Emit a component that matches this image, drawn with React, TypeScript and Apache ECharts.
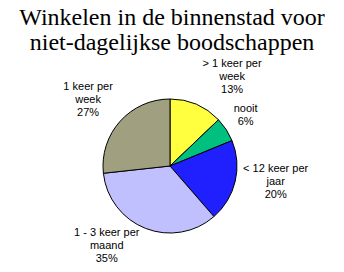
import React, { useEffect, useRef } from "react";
import * as echarts from "echarts";

const categories = ["> 1 keer per week", "nooit", "< 12 keer per jaar", "1 - 3 keer per maand", "1 keer per week"];
const values = [13, 6, 20, 35, 27];
const colors = ["#FFFF40", "#00C080", "#2020FF", "#C0C0FF", "#A0A080"];
const titleText = "Winkelen in de binnenstad voor\nniet-dagelijkse boodschappen";

export default function App() {
  const ref = useRef<HTMLDivElement>(null);
  useEffect(() => {
    document.body.style.margin = "0";
    const chart = echarts.init(ref.current!, null, { renderer: "svg" });
    const total = values.reduce((a, b) => a + b, 0);
    const midAngle = (i: number) => {
      let before = 0;
      for (let k = 0; k < i; k++) before += values[k];
      return ((before + values[i] / 2) / total) * Math.PI * 2;
    };
    chart.setOption({
      animation: false,
      backgroundColor: "#ffffff",
      title: {
        text: titleText,
        left: "center",
        top: -1,
        textStyle: {
          fontFamily: "Liberation Serif, serif",
          fontWeight: "normal",
          fontSize: 24,
          lineHeight: 25,
          color: "#000",
        },
      },
      series: [
        {
          type: "pie",
          center: [170, 166],
          radius: 67,
          startAngle: 90,
          clockwise: true,
          avoidLabelOverlap: false,
          data: categories.map((c, i) => ({ name: c, value: values[i], itemStyle: { color: colors[i] } })),
          itemStyle: { borderColor: "#000", borderWidth: 1 },
          label: {
            show: true,
            position: "outside",
            align: "center",
            fontFamily: "Arial",
            fontSize: 11,
            lineHeight: 13,
            color: "#000",
            formatter: (p: any) => p.name.replace(" per ", " per\n") + "\n" + p.value + "%",
          },
          labelLine: { show: false, length: 3, length2: 0 },
          labelLayout: (p: any) => {
            const a = midAngle(p.dataIndex);
            const r = p.labelRect;
            return {
              x: r.x + r.width / 2,
              y: r.y + r.height / 2 - Math.cos(a) * (r.height / 2) * 1.1 - 6,
              align: "center",
              verticalAlign: "middle",
            };
          },
          emphasis: { disabled: true },
        },
      ],
    });
    return () => chart.dispose();
  }, []);
  return <div ref={ref} style={{ width: 344, height: 272 }} />;
}
